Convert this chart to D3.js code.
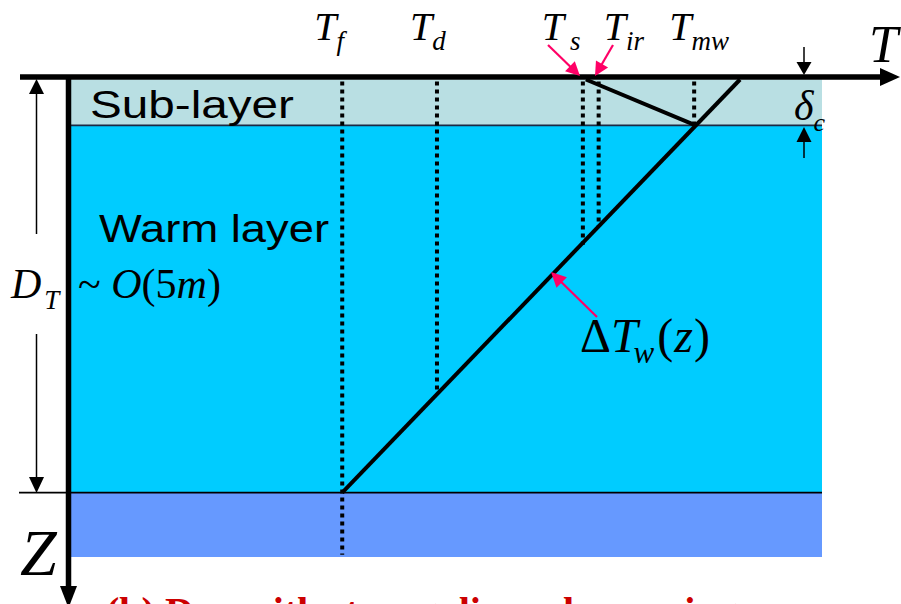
<!DOCTYPE html>
<html><head><meta charset="utf-8">
<script src="https://cdn.jsdelivr.net/npm/d3@7"></script>
<style>body{margin:0;background:#fff}svg{display:block}</style>
</head><body>
<script>
// ---------- data ----------
const levelNames = ["T", "T", "T", "T", "T"];
const levelSubs = ["f", "d", "s", "ir", "mw"];
const levelTemps = [36.2, 48.8, 68.2, 70.3, 83.0];
const levelDepthEnds = [10.35, 6.75, 3.6, 3.2, 1.0];
const warmProfileT = [36.2, 89.1];
const warmProfileZ = [9.0, 0];
const skinProfileT = [68.6, 83.2];
const skinProfileZ = [0, 1.0];
const layerNames = ["Sub-layer", "Warm layer", ""];
const layerTops = [0, 1.0, 9.0];
const layerBottoms = [1.0, 9.0, 10.4];
const tempDomain = [0, 100];
const depthDomain = [0, 10.4];

// ---------- layout / style ----------
const W = 901, H = 604;
const layerFills = ["#b9dfe3", "#00ccff", "#6699ff"];
const pink = "#ff0066";
const x = d3.scaleLinear().domain(tempDomain).range([70, 822]);
const y = d3.scaleLinear().domain(depthDomain).range([79.5, 557]);

const svg = d3.select("body").append("svg").attr("width", W).attr("height", H);

// layers
svg.selectAll("rect.layer").data(layerTops).join("rect")
  .attr("x", x(0)).attr("width", x(100) - x(0))
  .attr("y", d => y(d)).attr("height", (d, i) => y(layerBottoms[i]) - y(d))
  .attr("fill", (d, i) => layerFills[i]);

// boundary lines
svg.append("line").attr("x1", x(0)).attr("x2", x(100)).attr("y1", y(1)).attr("y2", y(1))
  .attr("stroke", "#1c2a44").attr("stroke-width", 1.6);
svg.append("line").attr("x1", 19).attr("x2", x(100)).attr("y1", y(9)).attr("y2", y(9))
  .attr("stroke", "#000").attr("stroke-width", 1.8);

// dotted level lines
svg.selectAll("line.level").data(levelTemps).join("line")
  .attr("x1", d => x(d)).attr("x2", d => x(d))
  .attr("y1", y(0) + 2).attr("y2", (d, i) => y(levelDepthEnds[i]))
  .attr("stroke", "#000").attr("stroke-width", 4).attr("stroke-dasharray", "4,4");

// profiles
const line = d3.line().x(d => x(d[0])).y(d => y(d[1]));
svg.append("path").attr("d", line(warmProfileT.map((t, i) => [t, warmProfileZ[i]])))
  .attr("stroke", "#000").attr("stroke-width", 4).attr("fill", "none");
svg.append("path").attr("d", line(skinProfileT.map((t, i) => [t, skinProfileZ[i]])))
  .attr("stroke", "#000").attr("stroke-width", 4).attr("fill", "none");

// helper arrow
function arrow(x1, y1, x2, y2, color, sw, hl, hw) {
  const a = Math.atan2(y2 - y1, x2 - x1);
  const bx = x2 - hl * Math.cos(a), by = y2 - hl * Math.sin(a);
  svg.append("line").attr("x1", x1).attr("y1", y1).attr("x2", bx + Math.cos(a)).attr("y2", by + Math.sin(a))
    .attr("stroke", color).attr("stroke-width", sw);
  const px = -Math.sin(a) * hw / 2, py = Math.cos(a) * hw / 2;
  svg.append("polygon").attr("points", `${x2},${y2} ${bx + px},${by + py} ${bx - px},${by - py}`).attr("fill", color);
}

// axes
svg.append("line").attr("x1", 20).attr("x2", 882).attr("y1", 77).attr("y2", 77)
  .attr("stroke", "#000").attr("stroke-width", 5.5);
svg.append("polygon").attr("points", "880,68 900,77 880,86").attr("fill", "#000");
svg.append("line").attr("x1", 68.5).attr("x2", 68.5).attr("y1", 75).attr("y2", 590)
  .attr("stroke", "#000").attr("stroke-width", 5.5);
svg.append("polygon").attr("points", "60,586 68.5,608 77,586").attr("fill", "#000");

// D_T dimension
svg.append("line").attr("x1", 36.5).attr("x2", 36.5).attr("y1", 92).attr("y2", 234).attr("stroke", "#000").attr("stroke-width", 1.5);
svg.append("line").attr("x1", 36.5).attr("x2", 36.5).attr("y1", 334).attr("y2", 479).attr("stroke", "#000").attr("stroke-width", 1.5);
svg.append("polygon").attr("points", "29,94 36.5,79 44,94").attr("fill", "#000");
svg.append("polygon").attr("points", "29,477 36.5,493 44,477").attr("fill", "#000");

// delta_c arrows
arrow(804, 47, 804, 75, "#000", 1.5, 13, 15);
arrow(804, 158, 804, 127, "#000", 1.5, 15, 15);

// pink arrows
arrow(548, 45, 580, 76, pink, 2.2, 14, 14);
arrow(613, 45, 595, 76, pink, 2.2, 14, 14);
arrow(597, 317, 551, 272, pink, 2.2, 15, 15);

// ---------- text ----------
const serif = "'Liberation Serif','Times New Roman',serif";
const sans = "'Liberation Sans',Arial,sans-serif";
const labelTX = [-28, -27, -41, 5, -25];
const labelSubDX = [0, 0, 6, 0, 0];
levelTemps.forEach((t, i) => {
  const tx = svg.append("text").attr("x", x(t) + labelTX[i]).attr("y", 40)
    .attr("font-family", serif).attr("font-style", "italic").attr("font-size", 40).attr("fill", "#000");
  tx.append("tspan").text(levelNames[i]);
  tx.append("tspan").attr("dx", labelSubDX[i]).attr("dy", 10).attr("font-size", 27).text(levelSubs[i]);
});
svg.append("text").attr("x", 869).attr("y", 62).attr("font-family", serif).attr("font-style", "italic")
  .attr("font-size", 52).text("T");

// delta_c
const dc = svg.append("text").attr("x", 794).attr("y", 120).attr("font-family", serif).attr("font-style", "italic").attr("font-size", 42);
dc.append("tspan").text("δ");
dc.append("tspan").attr("dx", 0).attr("dy", 11).attr("font-size", 26).text("c");

// layer names
svg.append("text").attr("x", 90).attr("y", 118).attr("font-family", sans).attr("font-size", 38)
  .attr("textLength", 204).attr("lengthAdjust", "spacingAndGlyphs").text(layerNames[0]);
svg.append("text").attr("x", 99).attr("y", 242).attr("font-family", sans).attr("font-size", 38)
  .attr("textLength", 230).attr("lengthAdjust", "spacingAndGlyphs").text(layerNames[1]);

// D_T
const dt = svg.append("text").attr("x", 11).attr("y", 298).attr("font-family", serif).attr("font-style", "italic").attr("font-size", 42);
dt.append("tspan").text("D");
dt.append("tspan").attr("dx", 3).attr("dy", 11).attr("font-size", 27).text("T");

// ~ O(5m)
const om = svg.append("text").attr("x", 78).attr("y", 298).attr("font-family", serif).attr("font-size", 42);
om.append("tspan").text("~ ");
om.append("tspan").attr("font-style", "italic").text("O");
om.append("tspan").text("(5");
om.append("tspan").attr("font-style", "italic").text("m");
om.append("tspan").text(")");

// Delta T_w(z)
const dw = svg.append("text").attr("x", 580).attr("y", 352).attr("font-family", serif).attr("font-size", 48);
dw.append("tspan").text("Δ");
dw.append("tspan").attr("font-style", "italic").text("T");
dw.append("tspan").attr("font-style", "italic").attr("font-size", 31).attr("dx", -4).attr("dy", 11).text("w");
dw.append("tspan").attr("dy", -11).attr("dx", 3).text("(");
dw.append("tspan").attr("font-style", "italic").attr("dx", 1).text("z");
dw.append("tspan").attr("dx", 1).text(")");

// Z
svg.append("text").attr("x", 20).attr("y", 575).attr("font-family", serif).attr("font-style", "italic")
  .attr("font-size", 66).text("Z");

// caption (cut off at bottom, as in the reference)
svg.append("text").attr("x", 106).attr("y", 625).attr("font-family", serif).attr("font-weight", "bold")
  .attr("font-size", 40).attr("fill", "#cc0000").text("(b) Day with strong diurnal warming");
</script>
</body></html>
